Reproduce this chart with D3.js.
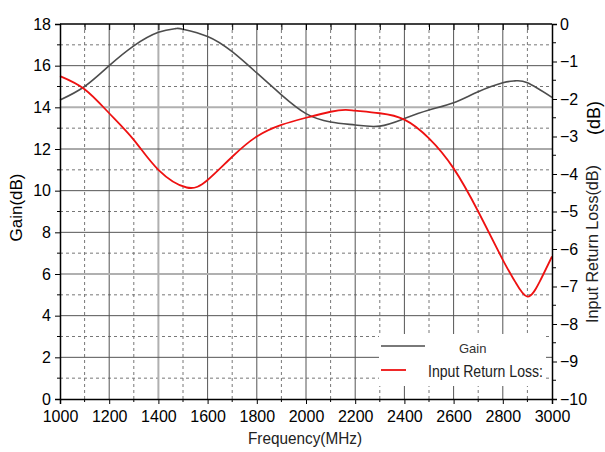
<!DOCTYPE html>
<html>
<head>
<meta charset="utf-8">
<script src="https://cdn.jsdelivr.net/npm/d3@7"></script>
<style>
	body { margin: 0; background: #fff; }
	svg { display: block; }
</style>
</head>
<body>
<div id="theChart"></div>
<script>
// frequency points (MHz)
const freq = [1000, 1100, 1200, 1300, 1400, 1470, 1500, 1600, 1700, 1800, 1900, 2000, 2100, 2200, 2300, 2400, 2500, 2600, 2700, 2800, 2850, 2900, 3000]
const gain = [14.35, 15.0, 16.0, 16.95, 17.6, 17.78, 17.75, 17.4, 16.67, 15.65, 14.6, 13.7, 13.3, 13.15, 13.1, 13.46, 13.87, 14.22, 14.75, 15.18, 15.27, 15.18, 14.48]

const rlFreq = [1000, 1100, 1200, 1300, 1400, 1515, 1600, 1700, 1800, 1900, 2000, 2100, 2160, 2200, 2300, 2400, 2500, 2600, 2700, 2800, 2850, 2900, 2950, 3000]
const returnLoss = [-1.39, -1.74, -2.38, -3.09, -3.89, -4.36, -4.16, -3.54, -3.0, -2.69, -2.5, -2.34, -2.29, -2.31, -2.38, -2.55, -3.05, -3.85, -5.0, -6.29, -6.87, -7.27, -6.87, -6.2]

const xTicks = [1000, 1200, 1400, 1600, 1800, 2000, 2200, 2400, 2600, 2800, 3000]
const gainTicks = [0, 2, 4, 6, 8, 10, 12, 14, 16, 18]
const rlTicks = [0, -1, -2, -3, -4, -5, -6, -7, -8, -9, -10]

const w = 605
const h = 452
const pLeft = 60, pRight = 552, pTop = 24, pBottom = 399

const svg = d3.select("#theChart").append("svg").attr("width", w).attr("height", h)

const x = d3.scaleLinear().domain([1000, 3000]).range([pLeft, pRight])
const yG = d3.scaleLinear().domain([0, 18]).range([pBottom, pTop])
const yR = d3.scaleLinear().domain([-10, 0]).range([pBottom, pTop])

// grid
const grid = svg.append("g")
grid.selectAll(".vmin").data(d3.range(1100, 3000, 200)).enter().append("line")
	.attr("x1", d => x(d)).attr("x2", d => x(d)).attr("y1", pTop).attr("y2", pBottom)
	.attr("stroke", "#777").attr("stroke-dasharray", "3,3")
grid.selectAll(".hmin").data(d3.range(1, 18, 2)).enter().append("line")
	.attr("x1", pLeft).attr("x2", pRight).attr("y1", d => yG(d)).attr("y2", d => yG(d))
	.attr("stroke", "#777").attr("stroke-dasharray", "3,3")
grid.selectAll(".vmaj").data(xTicks.slice(1, -1)).enter().append("line")
	.attr("x1", d => x(d)).attr("x2", d => x(d)).attr("y1", pTop).attr("y2", pBottom)
	.attr("stroke", d => d === 1400 ? "#b0b0b0" : "#555").attr("stroke-width", d => d === 1400 ? 2 : 1)
grid.selectAll(".hmaj").data(gainTicks.slice(1, -1)).enter().append("line")
	.attr("x1", pLeft).attr("x2", pRight).attr("y1", d => yG(d)).attr("y2", d => yG(d))
	.attr("stroke", d => (d === 14 || d === 6) ? "#b0b0b0" : "#555").attr("stroke-width", d => (d === 14 || d === 6) ? 2 : 1)

// lines
const gainLine = d3.line().x((d, i) => x(freq[i])).y(d => yG(d)).curve(d3.curveNatural)
const rlLine = d3.line().x((d, i) => x(rlFreq[i])).y(d => yR(d)).curve(d3.curveNatural)

svg.append("path").datum(gain).attr("d", gainLine)
	.attr("fill", "none").attr("stroke", "#4d4d4d").attr("stroke-width", 1.6)
svg.append("path").datum(returnLoss).attr("d", rlLine)
	.attr("fill", "none").attr("stroke", "#ee1111").attr("stroke-width", 1.8)

// axes
const font = "Liberation Sans, Arial, sans-serif"
const narrow = "Liberation Sans Narrow, Arial Narrow, sans-serif"

const xAxis = svg.append("g").attr("transform", `translate(0,${pBottom})`)
	.call(d3.axisBottom(x).tickValues(xTicks).tickSize(5).tickPadding(7).tickFormat(d3.format("d")))
xAxis.append("g").selectAll("line").data(d3.range(1100, 3000, 200)).enter().append("line")
	.attr("x1", d => x(d)).attr("x2", d => x(d)).attr("y2", 3).attr("stroke", "#000")

const xTop = svg.append("g").attr("transform", `translate(0,${pTop})`)
	.call(d3.axisBottom(x).tickValues(d3.range(1000, 3001, 100)).tickSize(6).tickFormat(""))

const yAxis = svg.append("g").attr("transform", `translate(${pLeft},0)`)
	.call(d3.axisLeft(yG).tickValues(gainTicks).tickSize(5).tickPadding(4))
yAxis.append("g").selectAll("line").data(d3.range(1, 18, 2)).enter().append("line")
	.attr("y1", d => yG(d)).attr("y2", d => yG(d)).attr("x2", -3).attr("stroke", "#000")

const rAxis = svg.append("g").attr("transform", `translate(${pRight},0)`)
	.call(d3.axisRight(yR).tickValues(rlTicks).tickSize(5).tickPadding(3))
rAxis.append("g").selectAll("line").data(d3.range(-9.5, 0, 1)).enter().append("line")
	.attr("y1", d => yR(d)).attr("y2", d => yR(d)).attr("x2", 4).attr("stroke", "#000")

for (const a of [xAxis, xTop, yAxis, rAxis]) {
	a.select(".domain").attr("stroke", "#000").attr("stroke-width", 1.5)
	a.selectAll("text").attr("font-family", font).attr("font-size", 16).attr("fill", "#000")
}
xTop.select(".domain").attr("d", `M${pLeft},0H${pRight}`)

// axis titles
svg.append("text").attr("transform", `translate(22,${(pTop + pBottom) / 2 - 4}) rotate(-90)`)
	.attr("text-anchor", "middle").attr("font-family", font).attr("font-size", 17)
	.text("Gain(dB)")
svg.append("text").attr("transform", `translate(598,244) rotate(-90)`)
	.attr("text-anchor", "middle").attr("font-family", narrow)
	.attr("font-size", 16).attr("fill", "#222").attr("textLength", 158).attr("lengthAdjust", "spacingAndGlyphs")
	.text("Input Return Loss(dB)")
svg.append("text").attr("transform", `translate(600,118) rotate(-90)`)
	.attr("text-anchor", "middle").attr("font-family", font).attr("font-size", 18)
	.text("(dB)")
svg.append("text").attr("x", 305).attr("y", 444)
	.attr("text-anchor", "middle").attr("font-family", narrow)
	.attr("font-size", 16).attr("fill", "#222").attr("textLength", 114).attr("lengthAdjust", "spacingAndGlyphs")
	.text("Frequency(MHz)")

// legend
const legend = svg.append("g")
legend.append("rect").attr("x", 379).attr("y", 334).attr("width", 167).attr("height", 52).attr("fill", "#fff")
legend.append("line").attr("x1", 381).attr("x2", 425).attr("y1", 346).attr("y2", 346)
	.attr("stroke", "#4d4d4d").attr("stroke-width", 1.5)
legend.append("line").attr("x1", 381).attr("x2", 406).attr("y1", 370).attr("y2", 370)
	.attr("stroke", "#ee1111").attr("stroke-width", 1.8)
legend.append("text").attr("x", 459).attr("y", 353).attr("font-family", font).attr("font-size", 13)
	.attr("fill", "#333").text("Gain")
legend.append("text").attr("x", 428).attr("y", 377)
	.attr("font-family", narrow).attr("font-size", 16)
	.attr("fill", "#222").attr("textLength", 115).attr("lengthAdjust", "spacingAndGlyphs")
	.text("Input Return Loss:")
</script>
</body>
</html>
